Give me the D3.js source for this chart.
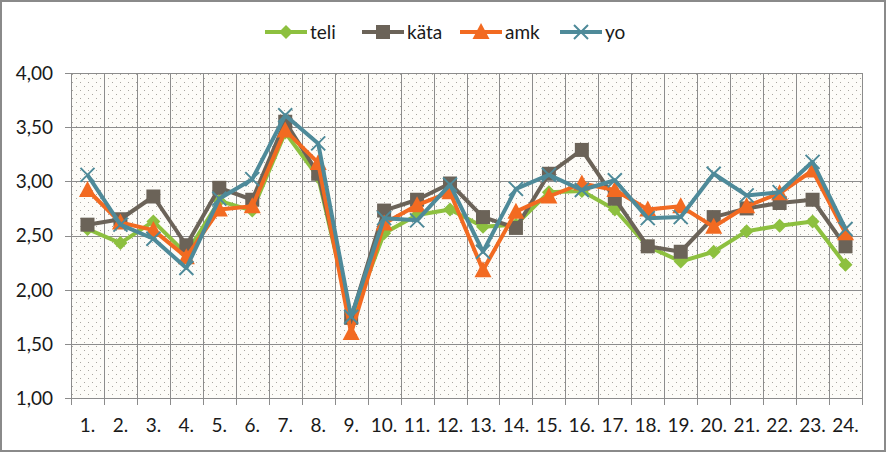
<!DOCTYPE html>
<html><head><meta charset="utf-8">
<script src="https://cdn.jsdelivr.net/npm/d3@7"></script>
<style>body{margin:0;background:#fff;} svg{display:block;}</style>
</head><body>
<svg id="c" width="886" height="452"></svg>
<script>
const categories = ["1.","2.","3.","4.","5.","6.","7.","8.","9.","10.","11.","12.","13.","14.","15.","16.","17.","18.","19.","20.","21.","22.","23.","24."];
const teli = [2.56,2.43,2.63,2.33,2.82,2.73,3.45,3.04,1.72,2.52,2.69,2.74,2.58,2.60,2.90,2.91,2.74,2.40,2.26,2.35,2.54,2.59,2.63,2.23];
const kata = [2.60,2.65,2.86,2.41,2.94,2.83,3.55,3.07,1.74,2.73,2.83,2.98,2.67,2.57,3.07,3.29,2.84,2.40,2.35,2.67,2.75,2.80,2.83,2.40];
const amk  = [2.92,2.62,2.55,2.30,2.74,2.77,3.47,3.17,1.60,2.61,2.78,2.90,2.18,2.72,2.86,2.98,2.92,2.74,2.77,2.58,2.77,2.89,3.10,2.52];
const yo   = [3.06,2.60,2.47,2.20,2.84,3.02,3.61,3.35,1.75,2.66,2.64,2.97,2.35,2.93,3.06,2.92,3.01,2.66,2.67,3.07,2.87,2.90,3.18,2.56];
const yTicks = [1.00,1.50,2.00,2.50,3.00,3.50,4.00];
const seriesNames = ["teli","käta","amk","yo"];

const series = [
  {name:seriesNames[0], values:teli, color:"#8dc03f", marker:"diamond"},
  {name:seriesNames[1], values:kata, color:"#6b6358", marker:"square"},
  {name:seriesNames[2], values:amk,  color:"#f26a21", marker:"triangle"},
  {name:seriesNames[3], values:yo,   color:"#4e8a99", marker:"x"}
];

const svg = d3.select("#c");
const font = "Lato, 'Open Sans', sans-serif";
const fs = 19;
const L=71, R=862, T=73, B=398;

const defs = svg.append("defs");
const pat = defs.append("pattern").attr("id","dots").attr("patternUnits","userSpaceOnUse")
  .attr("width",8).attr("height",8).attr("x",L).attr("y",T);
pat.append("rect").attr("width",8).attr("height",8).attr("fill","#fdfcf8");
pat.append("rect").attr("x",1).attr("y",1).attr("width",1).attr("height",1).attr("fill","#a9a6a0");
pat.append("rect").attr("x",5).attr("y",5).attr("width",1).attr("height",1).attr("fill","#a9a6a0");

// outer border
svg.append("rect").attr("x",1).attr("y",1).attr("width",884).attr("height",450)
  .attr("fill","#fff").attr("stroke","#8a8a8a").attr("stroke-width",2);

const x = d3.scaleBand().domain(categories).range([L,R]).padding(0);
const y = d3.scaleLinear().domain([1,4]).range([B,T]);

svg.append("rect").attr("x",L).attr("y",T).attr("width",R-L).attr("height",B-T).attr("fill","url(#dots)");

// horizontal grid
svg.append("g").selectAll("line").data(yTicks).join("line")
  .attr("x1",L-6).attr("x2",R).attr("y1",d=>Math.round(y(d))+0.5).attr("y2",d=>Math.round(y(d))+0.5)
  .attr("stroke","#8c8c8c").attr("stroke-width",1);
// vertical grid
const bounds = categories.map(c=>x(c)).concat([R]);
svg.append("g").selectAll("line").data(bounds).join("line")
  .attr("x1",d=>Math.round(d)+0.5).attr("x2",d=>Math.round(d)+0.5).attr("y1",T).attr("y2",B+7)
  .attr("stroke","#8c8c8c").attr("stroke-width",1);

// y labels
const fmt = d => d.toFixed(2).replace(".",",");
svg.append("g").selectAll("text").data(yTicks).join("text")
  .attr("x",53).attr("y",d=>y(d)).attr("dy","0.36em").attr("text-anchor","end")
  .attr("font-family",font).attr("font-size",fs).attr("fill","#1a1a1a").text(fmt);
// x labels
svg.append("g").selectAll("text").data(categories).join("text")
  .attr("x",d=>x(d)+x.bandwidth()/2).attr("y",425).attr("dy","0.36em").attr("text-anchor","middle")
  .attr("font-family",font).attr("font-size",fs).attr("fill","#1a1a1a").text(d=>d);

const cx = i => x(categories[i]) + x.bandwidth()/2;
const line = d3.line().x((d,i)=>cx(i)).y(d=>y(d));

function diamondPath(px,py,s){return `M${px},${py-s}L${px+s},${py}L${px},${py+s}L${px-s},${py}Z`;}
function drawMarker(g, type, color, px, py){
  if(type==="diamond"){
    g.append("path").attr("d",diamondPath(px,py,7)).attr("fill",color);
  } else if(type==="square"){
    g.append("rect").attr("x",px-7).attr("y",py-7).attr("width",14).attr("height",14).attr("fill",color);
  } else if(type==="triangle"){
    g.append("path").attr("d",`M${px},${py-9}L${px+8.5},${py+7}L${px-8.5},${py+7}Z`).attr("fill",color);
  } else if(type==="x"){
    g.append("path").attr("d",`M${px-7},${py-7}L${px+7},${py+7}M${px-7},${py+7}L${px+7},${py-7}`).attr("stroke",color).attr("stroke-width",2);
  }
}

series.forEach(s=>{
  const g = svg.append("g");
  g.append("path").datum(s.values).attr("d",line).attr("fill","none")
    .attr("stroke",s.color).attr("stroke-width",4).attr("stroke-linejoin","round");
  s.values.forEach((v,i)=>drawMarker(g,s.marker,s.color,cx(i),y(v)));
});

// legend
const legX = [265,362,460,560];
const lg = svg.append("g");
series.forEach((s,i)=>{
  const x0 = legX[i], ly = 32;
  lg.append("line").attr("x1",x0).attr("x2",x0+42).attr("y1",ly).attr("y2",ly).attr("stroke",s.color).attr("stroke-width",4);
  drawMarker(lg,s.marker,s.color,x0+21,ly);
  lg.append("text").attr("x",x0+45).attr("y",ly).attr("dy","0.36em").attr("font-family",font).attr("font-size",fs).attr("fill","#1a1a1a").text(s.name);
});
</script>
</body></html>
